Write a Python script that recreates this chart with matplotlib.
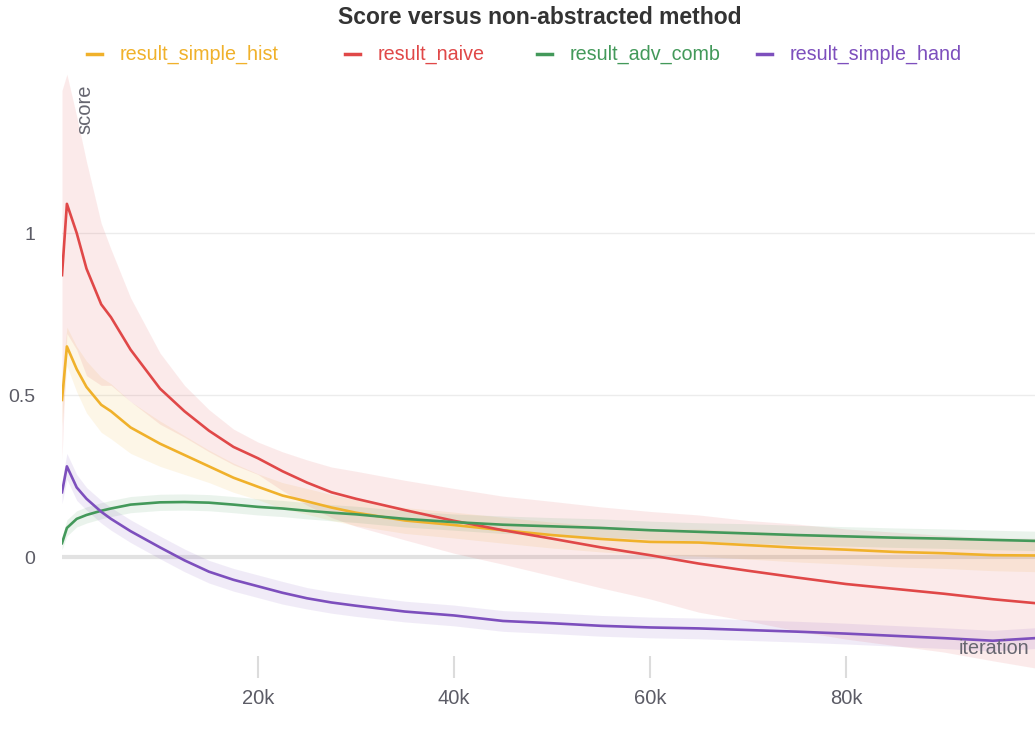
import numpy as np
import matplotlib
matplotlib.use("Agg")
import matplotlib.pyplot as plt
from matplotlib.lines import Line2D

plt.rcParams['font.family'] = ['Liberation Sans', 'DejaVu Sans']

# iteration (thousands) at which values were read
iters_k = [0, 0.5, 1.5, 2.5, 4, 5, 7, 10, 12.5, 15, 17.5, 20, 22.5, 25, 27.5, 30,
           35, 40, 45, 50, 55, 60, 65, 70, 75, 80, 85, 90, 95, 99.3]

names = ["result_simple_hist", "result_naive", "result_adv_comb", "result_simple_hand"]

simple_hist = [0.485, 0.65, 0.58, 0.525, 0.47, 0.45, 0.40, 0.35, 0.315, 0.28, 0.245, 0.217,
               0.19, 0.172, 0.153, 0.137, 0.113, 0.099, 0.083, 0.068, 0.056, 0.047, 0.045,
               0.037, 0.029, 0.023, 0.016, 0.012, 0.006, 0.005]
simple_hist_sd = [0.08, 0.06, 0.07, 0.08, 0.085, 0.085, 0.08, 0.07, 0.06, 0.05, 0.045, 0.04,
                  0.04, 0.04, 0.04, 0.04, 0.04, 0.04, 0.04, 0.04, 0.04, 0.04, 0.042, 0.043,
                  0.044, 0.045, 0.046, 0.047, 0.048, 0.05]

naive = [0.87, 1.09, 1.00, 0.89, 0.78, 0.74, 0.64, 0.52, 0.45, 0.39, 0.34, 0.305, 0.265, 0.23,
         0.20, 0.18, 0.145, 0.112, 0.083, 0.057, 0.03, 0.006, -0.02, -0.042, -0.063, -0.083,
         -0.098, -0.113, -0.13, -0.142]
naive_sd = [0.57, 0.40, 0.36, 0.33, 0.25, 0.21, 0.16, 0.11, 0.08, 0.065, 0.055, 0.05, 0.06,
            0.07, 0.078, 0.085, 0.092, 0.1, 0.105, 0.115, 0.125, 0.135, 0.15, 0.155, 0.165,
            0.17, 0.175, 0.18, 0.19, 0.2]

adv_comb = [0.043, 0.09, 0.118, 0.13, 0.143, 0.15, 0.162, 0.169, 0.17, 0.168, 0.162, 0.155,
            0.15, 0.143, 0.137, 0.132, 0.118, 0.108, 0.1, 0.095, 0.09, 0.083, 0.078, 0.073,
            0.068, 0.064, 0.06, 0.057, 0.053, 0.05]
adv_comb_sd = [0.02, 0.025, 0.025, 0.025, 0.025, 0.025, 0.025, 0.025, 0.025, 0.025, 0.025,
               0.025, 0.025, 0.025, 0.025, 0.025, 0.025, 0.025, 0.027, 0.027, 0.028, 0.028,
               0.028, 0.03, 0.03, 0.03, 0.03, 0.03, 0.03, 0.03]

simple_hand = [0.2, 0.28, 0.215, 0.18, 0.14, 0.118, 0.08, 0.03, -0.01, -0.045, -0.07, -0.09,
               -0.11, -0.127, -0.14, -0.15, -0.168, -0.18, -0.197, -0.204, -0.212, -0.217,
               -0.22, -0.225, -0.23, -0.236, -0.243, -0.25, -0.258, -0.25]
simple_hand_sd = [0.035, 0.04, 0.04, 0.035, 0.035, 0.035, 0.035, 0.035, 0.035, 0.035, 0.035,
                  0.035, 0.035, 0.033, 0.033, 0.033, 0.032, 0.032, 0.032, 0.032, 0.032, 0.032,
                  0.032, 0.032, 0.032, 0.032, 0.032, 0.032, 0.032, 0.032]

colors = ['#f0b12b', '#e04848', '#43995a', '#7d4fbd']

x = np.array(iters_k) * 1000
series = [(simple_hist, simple_hist_sd), (naive, naive_sd),
          (adv_comb, adv_comb_sd), (simple_hand, simple_hand_sd)]

W, H = 1035, 753
fig = plt.figure(figsize=(W / 100, H / 100), dpi=100)
ax = fig.add_axes([62 / W, 1 - 678 / H, 1 - 62 / W, (678 - 70) / H])

# bands first, then lines
for (m, sd), c in zip(series, colors):
    m = np.array(m); sd = np.array(sd)
    ax.fill_between(x, m - sd, m + sd, color=c, alpha=0.11, lw=0, zorder=2)
for (m, sd), c in zip(series, colors):
    ax.plot(x, m, color=c, lw=1.9, zorder=4)

ax.set_xlim(0, 99300)
ax.set_ylim(-0.373, 1.503)
ax.axhline(0, color='#e2e2e2', lw=3, zorder=1)
for yv in [0.5, 1]:
    ax.axhline(yv, color='#ececec', lw=1, zorder=1)

ax.set_yticks([0, 0.5, 1])
ax.set_yticklabels(['0', '0.5', '1'])
ax.set_xticks([20000, 40000, 60000, 80000])
ax.set_xticklabels(['20k', '40k', '60k', '80k'])
ax.tick_params(axis='y', length=0, pad=19, labelsize=14, labelcolor='#5c5c66')
ax.tick_params(axis='x', direction='in', length=16, width=1.5, color='#dcdcdc',
               pad=8, labelsize=14.5, labelcolor='#5c5c66')
for s in ax.spines.values():
    s.set_visible(False)

ax.text((85 - 62) / 973, (678 - 84) / 608, 'score', rotation=90, ha='center', va='top',
        transform=ax.transAxes, fontsize=14.5, color='#666670', zorder=5)
ax.text((1029 - 62) / 973, (678 - 648) / 608, 'iteration', ha='right', va='center',
        transform=ax.transAxes, fontsize=14.2, color='#666670', zorder=5)

fig.text(540 / W, 1 - 17 / H, 'Score versus non-abstracted method', ha='center',
         va='center', fontsize=16.5, fontweight='bold', color='#333333')

# legend drawn by hand so entries sit where the original put them
handle_x = [87, 345, 537, 757]
for hx, name, c in zip(handle_x, names, colors):
    fy = 1 - 54 / H
    fig.add_artist(Line2D([hx / W, (hx + 15) / W], [fy, fy], color=c, lw=2.5,
                          transform=fig.transFigure))
    fig.text((hx + 33) / W, fy, name, color=c, fontsize=14.2, ha='left', va='center')

fig.savefig('out.png', dpi=100)
